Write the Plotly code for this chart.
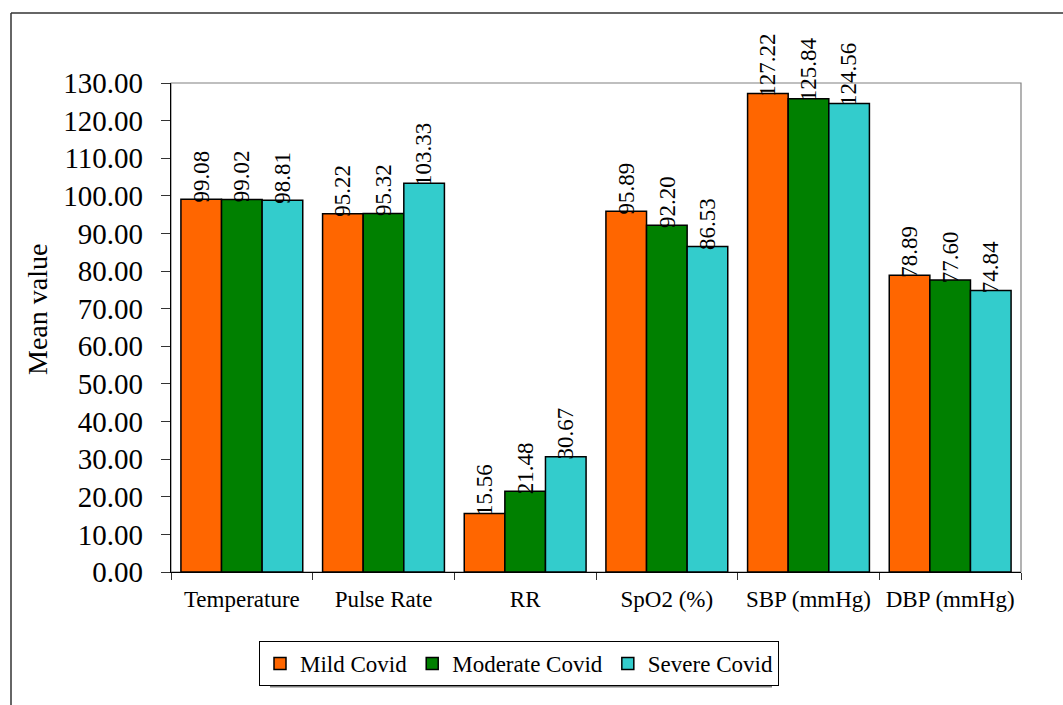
import plotly.graph_objects as go

# Vital-sign means by COVID severity
categories = ["Temperature", "Pulse Rate", "RR", "SpO2 (%)", "SBP (mmHg)", "DBP (mmHg)"]
mild = [99.08, 95.22, 15.56, 95.89, 127.22, 78.89]
moderate = [99.02, 95.32, 21.48, 92.20, 125.84, 77.60]
severe = [98.81, 103.33, 30.67, 86.53, 124.56, 74.84]
y_ticks = [0, 10, 20, 30, 40, 50, 60, 70, 80, 90, 100, 110, 120, 130]

SERIF = "Liberation Serif"
W, H = 1063, 705
L, R, T, B = 171, 42, 83, 133
PW, PH = W - L - R, H - T - B
BARGAP = 0.14


def px_x(px):
    return (px - L) / PW


def px_y(py):
    return (H - B - py) / PH


series = [
    ("Mild Covid", mild, "#FF6600"),
    ("Moderate Covid", moderate, "#008000"),
    ("Severe Covid", severe, "#33CCCC"),
]

fig = go.Figure()
for name, vals, color in series:
    fig.add_trace(go.Bar(
        name=name, x=categories, y=vals,
        marker=dict(color=color, line=dict(color="#000000", width=1.5)),
    ))

# Rotated value labels sitting on each bar top
bar_px = PW / len(categories) * (1 - BARGAP) / len(series)
annotations = []
for i, (name, vals, color) in enumerate(series):
    shift = (i - (len(series) - 1) / 2) * bar_px
    for cat, v in zip(categories, vals):
        annotations.append(dict(
            x=cat, y=v, xref="x", yref="y", text=f"{v:.2f}",
            textangle=-90, showarrow=False, xanchor="center", yanchor="bottom",
            xshift=shift, yshift=-5,
            font=dict(family=SERIF, size=23, color="#000000"),
        ))

annotations.append(dict(
    text="Mean value", xref="paper", yref="paper",
    x=px_x(37), y=px_y(310), xanchor="center", yanchor="middle",
    textangle=-90, showarrow=False,
    font=dict(family=SERIF, size=28, color="#000000"),
))

shapes = [
    # plot-area frame
    dict(type="rect", xref="paper", yref="paper", x0=0, y0=0, x1=1, y1=1,
         line=dict(color="#808080", width=1.2), layer="below"),
    # outer chart frame (top and left edges)
    dict(type="line", xref="paper", yref="paper",
         x0=px_x(11), y0=px_y(13), x1=px_x(1070), y1=px_y(13),
         line=dict(color="#333333", width=1.5)),
    dict(type="line", xref="paper", yref="paper",
         x0=px_x(11), y0=px_y(13), x1=px_x(11), y1=px_y(712),
         line=dict(color="#333333", width=1.5)),
    # legend drop shadow
    dict(type="line", xref="paper", yref="paper",
         x0=px_x(270), y0=px_y(686.5), x1=px_x(772), y1=px_y(686.5),
         line=dict(color="#808080", width=2)),
]

fig.update_layout(
    width=W, height=H,
    margin=dict(l=L, r=R, t=T, b=B, pad=0, autoexpand=False),
    paper_bgcolor="white", plot_bgcolor="white",
    barmode="group", bargap=BARGAP, bargroupgap=0,
    font=dict(family=SERIF, color="#000000"),
    showlegend=True,
    legend=dict(
        orientation="h", xref="paper", yref="paper",
        x=px_x(519), xanchor="center", y=px_y(641), yanchor="top",
        bordercolor="#000000", borderwidth=1, bgcolor="white",
        font=dict(family=SERIF, size=23, color="#000000"),
        traceorder="normal",
    ),
    xaxis=dict(
        type="category", showgrid=False, showline=True,
        linecolor="#000000", linewidth=1.2,
        ticks="outside", ticklen=7, tickcolor="#333333", tickson="boundaries",
        tickfont=dict(family=SERIF, size=23, color="#000000"),
        tickangle=0, automargin=False,
        ticklabelstandoff=6,
    ),
    yaxis=dict(
        range=[0, 130], tickvals=y_ticks, tickformat=".2f",
        showgrid=False, zeroline=False, showline=True,
        linecolor="#000000", linewidth=1.2,
        ticks="outside", ticklen=9, tickcolor="#333333",
        tickfont=dict(family=SERIF, size=29, color="#000000"),
        automargin=False,
        ticklabelstandoff=12,
    ),
    shapes=shapes,
    annotations=annotations,
)

fig.write_html("out.html")
